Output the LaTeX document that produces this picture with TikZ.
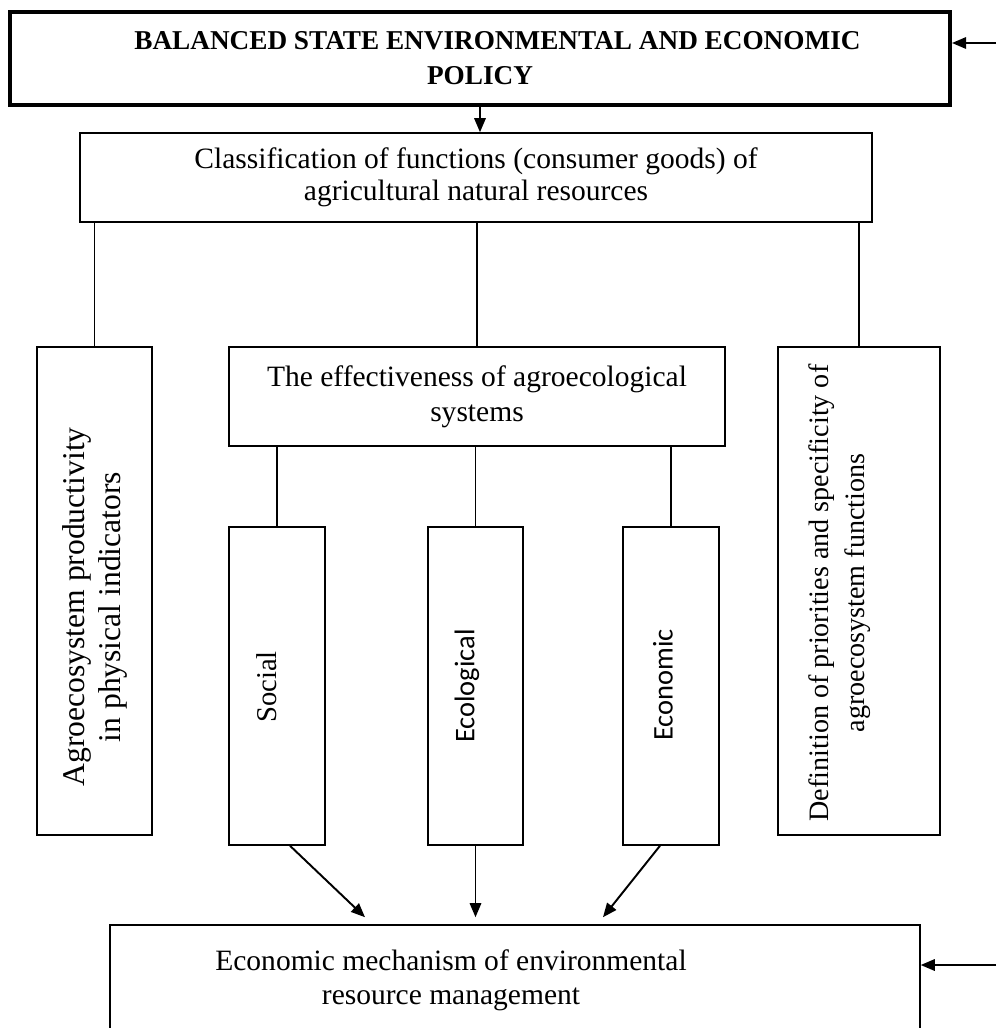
\documentclass[tikz,border=0pt]{standalone}
\usepackage{fontspec}
\setmainfont{Liberation Serif}
\newfontfamily\carlito{Carlito}
\usetikzlibrary{arrows.meta,positioning,calc}

\tikzset{
  box/.style={draw,line width=0.9pt,rectangle,inner sep=0pt,align=center,
    font=\fontsize{16.8}{20}\selectfont},
  vbox/.style={box,minimum height=6.36cm},
  vtext/.style={rotate=90,align=center,inner sep=0pt},
  arr/.style={-{Triangle[length=8pt,width=6.5pt]},line width=1.1pt},
  link/.style={line width=0.9pt}
}

\begin{document}
\begin{tikzpicture}[x=0.02cm,y=-0.02cm]
  \useasboundingbox (0,0) rectangle (1000,1028);
  \clip (0,0) rectangle (1000,1028);
  % Policy and classification
  \node[box,line width=2.4pt,minimum width=18.8cm,minimum height=1.86cm,
    font=\bfseries\fontsize{15.5}{20}\selectfont]
    (policy) at (480,58.5)
    {\hspace*{0.7cm}BALANCED STATE ENVIRONMENTAL AND ECONOMIC\\POLICY};
  \node[box,minimum width=15.84cm,minimum height=1.78cm,
    font=\fontsize{16.8}{18.5}\selectfont]
    (classif) at (476,177.5)
    {Classification of functions (consumer goods) of\\
     agricultural natural resources};
  % Middle row
  \node[box,minimum width=2.3cm,minimum height=9.76cm]
    (product) at (94.5,591) {};
  \node[vtext,font=\fontsize{18}{20.4}\selectfont]
    (producttext) at (95,607)
    {Agroecosystem productivity\\in physical indicators};
  \node[box,minimum width=3.24cm,minimum height=9.76cm]
    (priority) at (859,591) {};
  \node[vtext,font=\fontsize{16}{20.5}\selectfont]
    (prioritytext) at (840,593)
    {Definition of priorities and specificity of\\agroecosystem functions};
  \node[box,minimum width=9.92cm,minimum height=1.98cm]
    (effect) at (477,396.5)
    {The effectiveness of agroecological\\systems};
  % Three kinds of effectiveness
  \node[vbox,minimum width=1.92cm] (social) at (277,686) {};
  \node[vtext,font=\fontsize{16.3}{18}\selectfont]
    (socialtext) at (267,687) {Social};
  \node[vbox,minimum width=1.9cm] (ecolog) at (475.5,686) {};
  \node[vtext,font=\carlito\fontsize{16.2}{18}\selectfont]
    (ecologtext) at (467,686) {Ecological};
  \node[vbox,minimum width=1.92cm] (econom) at (671,686) {};
  \node[vtext,font=\carlito\fontsize{16.2}{18}\selectfont]
    (economtext) at (663,685) {Economic};
  % Mechanism
  \node[box,minimum width=16.2cm,minimum height=2.9cm]
    (mechan) at (515,997.5) {};
  \node[align=center,font=\fontsize{16.8}{19.5}\selectfont]
    (mechtext) at (451,980)
    {Economic mechanism of environmental\\resource management};
  % Incoming arrows on the right
  \coordinate (inpol) at (996,43);
  \coordinate (inmech) at (996,965);
  \draw[arr] (inpol) -- (inpol -| policy.east);
  \draw[arr] (inmech) -- (inmech -| mechan.east);
  % Links
  \draw[arr] (policy.south) -- (policy.south |- classif.north);
  \draw[link] (product.north) -- (product.north |- classif.south);
  \draw[link] (effect.north) -- (effect.north |- classif.south);
  \draw[link] (priority.north) -- (priority.north |- classif.south);
  \draw[link] (social.north) -- (social.north |- effect.south);
  \draw[link] (ecolog.north) -- (ecolog.north |- effect.south);
  \draw[link] (econom.north) -- (econom.north |- effect.south);
  \draw[arr] ([xshift=0.26cm]social.south) -- ([xshift=-3cm,yshift=0.14cm]mechan.north);
  \draw[arr] (ecolog.south) -- ([yshift=0.14cm]ecolog.south |- mechan.north);
  \draw[arr] ([xshift=-0.22cm]econom.south) -- ([xshift=1.76cm,yshift=0.14cm]mechan.north);
\end{tikzpicture}
\end{document}
